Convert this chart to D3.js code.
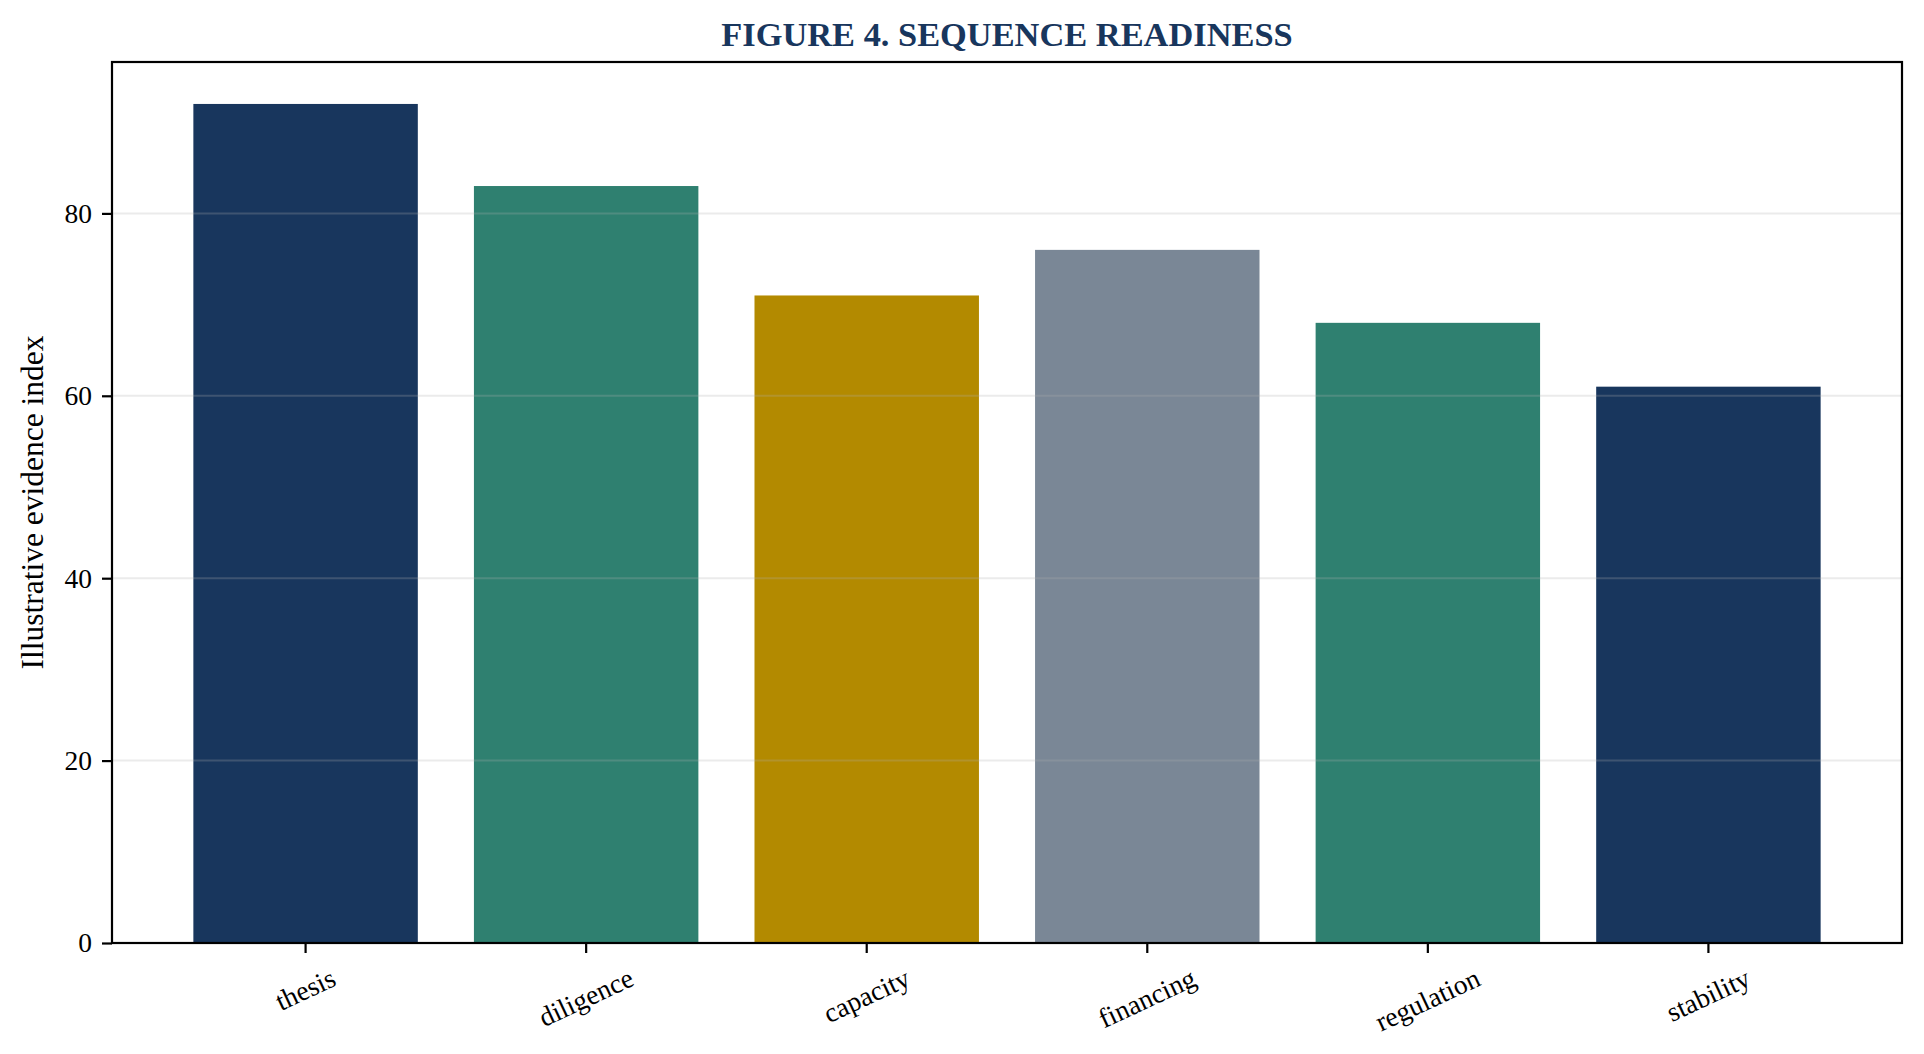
<!DOCTYPE html>
<html>
<head>
<meta charset="utf-8">
<script src="https://cdn.jsdelivr.net/npm/d3@7"></script>
<style>
  html, body { margin: 0; padding: 0; background: #fff; }
  svg { display: block; }
</style>
</head>
<body>
<div id="chart"></div>
<script>
// Figure 4 - sequence readiness bars

const categories = ["thesis", "diligence", "capacity", "financing", "regulation", "stability"];
const values = [92, 83, 71, 76, 68, 61];
const barColors = ["#18365d", "#2f8070", "#b38a00", "#7a8796", "#2f8070", "#18365d"];
const yTicks = [0, 20, 40, 60, 80];

const width = 1924, height = 1054;
const margin = { top: 62, right: 22, bottom: 111, left: 112 };
const font = "'Liberation Serif', 'Times New Roman', serif";

const svg = d3.select("#chart")
  .append("svg")
  .attr("width", width)
  .attr("height", height)
  .attr("viewBox", [0, 0, width, height]);

const x = d3.scaleBand()
  .domain(categories)
  .range([margin.left, width - margin.right])
  .paddingInner(0.2)
  .paddingOuter(0.29);

const y = d3.scaleLinear()
  .domain([0, d3.max(values) * 1.05])
  .range([height - margin.bottom, margin.top]);

// bars
svg.append("g")
  .selectAll("rect")
  .data(categories)
  .join("rect")
  .attr("x", d => x(d))
  .attr("y", (d, i) => y(values[i]))
  .attr("width", x.bandwidth())
  .attr("height", (d, i) => y(0) - y(values[i]))
  .attr("fill", (d, i) => barColors[i]);

// horizontal grid (drawn over bars, faint)
svg.append("g")
  .selectAll("line")
  .data(yTicks.filter(t => t > 0))
  .join("line")
  .attr("x1", margin.left)
  .attr("x2", width - margin.right)
  .attr("y1", d => y(d))
  .attr("y2", d => y(d))
  .attr("stroke", "#b0b0b0")
  .attr("stroke-opacity", 0.25)
  .attr("stroke-width", 2);

// y axis
const yAxis = svg.append("g")
  .attr("transform", `translate(${margin.left},0)`)
  .call(d3.axisLeft(y).tickValues(yTicks).tickSize(10).tickPadding(10).tickFormat(d3.format("d")));
yAxis.select(".domain").remove();
yAxis.selectAll(".tick line").attr("stroke", "#000").attr("stroke-width", 2.2);
yAxis.selectAll(".tick text")
  .attr("fill", "#000")
  .style("font-family", font)
  .style("font-size", "27.5px");

// x axis
const xAxis = svg.append("g")
  .attr("transform", `translate(0,${height - margin.bottom})`)
  .call(d3.axisBottom(x).tickSize(10).tickFormat(""));
xAxis.select(".domain").remove();
xAxis.selectAll(".tick line").attr("stroke", "#000").attr("stroke-width", 2.2);

// rotated category labels, bbox top just under the tick
const rot = 25 * Math.PI / 180;
const labelTop = height - margin.bottom + 20;
const labelSize = 27.5;
svg.append("g")
  .selectAll("text")
  .data(categories)
  .join("text")
  .style("font-family", font)
  .style("font-size", labelSize + "px")
  .attr("text-anchor", "middle")
  .attr("dy", "0.32em")
  .attr("fill", "#000")
  .text(d => d)
  .each(function(d) {
    const w = this.getComputedTextLength();
    const h = labelSize * 1.1;
    const cx = x(d) + x.bandwidth() / 2;
    const cy = labelTop + (w * Math.sin(rot) + h * Math.cos(rot)) / 2;
    d3.select(this).attr("transform", `translate(${cx},${cy}) rotate(-25)`);
  });

// frame
svg.append("rect")
  .attr("x", margin.left)
  .attr("y", margin.top)
  .attr("width", width - margin.left - margin.right)
  .attr("height", height - margin.top - margin.bottom)
  .attr("fill", "none")
  .attr("stroke", "#000")
  .attr("stroke-width", 2.2);

// y label
svg.append("text")
  .attr("transform", `translate(43,${(margin.top + height - margin.bottom) / 2}) rotate(-90)`)
  .attr("text-anchor", "middle")
  .attr("fill", "#000")
  .style("font-family", font)
  .style("font-size", "31.5px")
  .text("Illustrative evidence index");

// title
svg.append("text")
  .attr("x", (margin.left + width - margin.right) / 2)
  .attr("y", 46)
  .attr("text-anchor", "middle")
  .attr("fill", "#18365d")
  .style("font-family", font)
  .style("font-size", "34.4px")
  .style("font-weight", "bold")
  .text("FIGURE 4. SEQUENCE READINESS");
</script>
</body>
</html>
